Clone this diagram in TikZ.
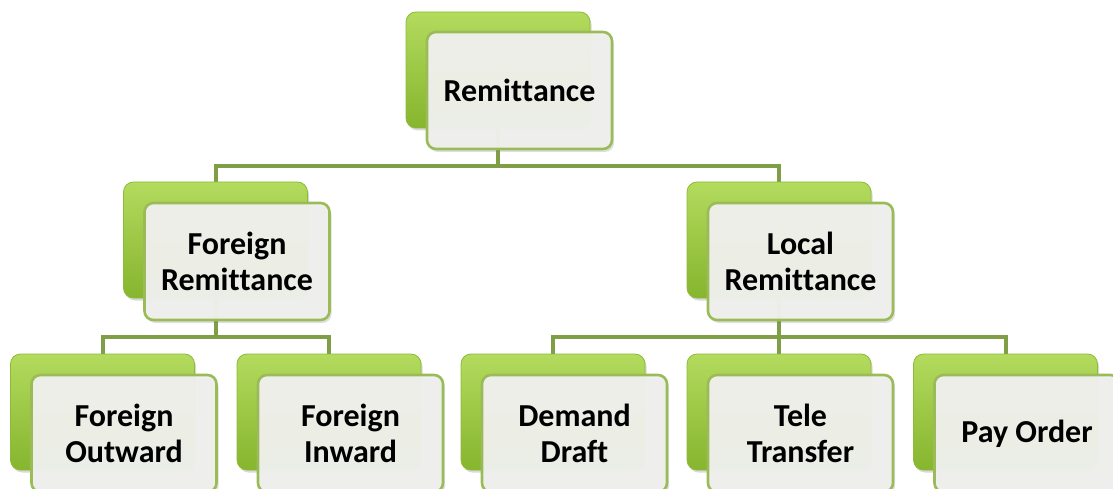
\documentclass[tikz,border=0pt]{standalone}
\usepackage{fontspec}
\setmainfont{Carlito}[Ligatures={NoCommon,NoRare,NoContextual}]
\usetikzlibrary{shadows,backgrounds}
\definecolor{gtop}{HTML}{B3DB5E}
\definecolor{gmid}{HTML}{9DCA42}
\definecolor{gbot}{HTML}{86B52E}
\definecolor{gedge}{HTML}{8DBA38}
\definecolor{lineg}{HTML}{7F9E45}
\definecolor{bord}{HTML}{9BBB59}
\definecolor{wfill}{HTML}{F0F1ED}
\newcommand{\rmt}{Remit\kern0pt tance}
\begin{document}
\begin{tikzpicture}[x=1pt,y=-1pt,
  gbox/.style={rounded corners=10pt, top color=gtop, middle color=gmid, bottom color=gbot, draw=gedge, line width=0.8pt,
    minimum width=184pt, minimum height=116pt, inner sep=0pt,
    drop shadow={opacity=0.3, shadow xshift=1.5pt, shadow yshift=-2.5pt}},
  wbox/.style={rounded corners=9pt, fill=wfill, fill opacity=0.96, text opacity=1, draw=bord, draw opacity=1,
    line width=2.6pt, minimum width=185pt, minimum height=117pt, inner sep=0pt,
    align=center, font=\bfseries\fontsize{32}{36}\selectfont,
    drop shadow={opacity=0.25, shadow xshift=2pt, shadow yshift=-3pt}},
  conn/.style={draw=lineg, line width=4pt}]
\useasboundingbox (0,0) rectangle (1113,489);
\clip (0,0) rectangle (1113,489);
% level 0
\node[gbox] (g0) at (498,70) {};
\node[wbox] (w0) at (519.5,90.5) {\rmt};
% level 1
\node[gbox] (g1) at (215.5,240) {};
\node[wbox] (w1) at (237,261.5) {Foreign\\\rmt};
\node[gbox] (g2) at (779,240) {};
\node[wbox] (w2) at (800.5,261.5) {Local\\\rmt};
% level 2
\node[gbox] (g3) at (102.5,412) {};
\node[wbox] (w3) at (124,433.5) {Foreign\\Outward};
\node[gbox] (g4) at (329,412) {};
\node[wbox] (w4) at (350.5,433.5) {Foreign\\Inward};
\node[gbox] (g5) at (553,412) {};
\node[wbox] (w5) at (574.5,433.5) {Demand\\Draft};
\node[gbox] (g6) at (779,412) {};
\node[wbox] (w6) at (800.5,433.5) {Tele\\Transfer};
\node[gbox] (g7) at (1005.5,412) {};
\node[wbox] (w7) at (1027,433.5) {Pay Order};
\begin{scope}[on background layer]
  \coordinate (j0) at (498,166);
  \coordinate (j1) at (215.5,337);
  \coordinate (j2) at (779,337);
  \draw[conn] (g0.center) -- (j0);
  \draw[conn] (g1.center) |- (j0) -| (g2.center);
  \draw[conn] (g1.center) -- (j1);
  \draw[conn] (g3.center) |- (j1) -| (g4.center);
  \draw[conn] (g2.center) -- (j2);
  \draw[conn] (g5.center) |- (j2) -| (g7.center);
  \draw[conn] (j2) -- (g6.center);
\end{scope}
\end{tikzpicture}
\end{document}
